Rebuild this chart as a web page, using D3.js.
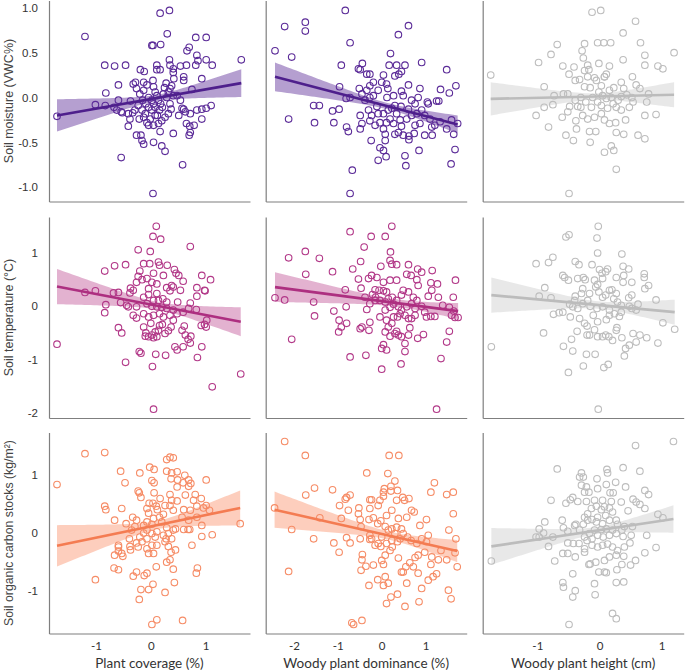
<!DOCTYPE html>
<html><head><meta charset="utf-8">
<script src="https://cdn.jsdelivr.net/npm/d3@7"></script>
<style>body{margin:0;background:#fff}svg{display:block}</style>
</head><body>
<script>
// ---------- DATA ----------
const predictors = ["Plant coverage (%)", "Woody plant dominance (%)", "Woody plant height (cm)"];
const responses = ["Soil moisture (VWC%)", "Soil temperature (°C)", "Soil organic carbon stocks (kg/m²)"];
const xTicks = [[-1,0,1],[-2,-1,0,1],[-1,0,1]];
const yTicks = [[1.0,0.5,0.0,-0.5,-1.0],[1,0,-1,-2],[1,0,-1]];

const moistureCoverage = [[-1.71,-0.21],[-1.20,0.68],[-0.84,0.36],[-0.66,0.35],[-0.46,0.36],[-0.82,0.05],[-1.01,-0.08],[-0.83,-0.09],[-0.67,-0.11],[-0.59,-0.03],[-0.59,0.14],[-0.54,-0.16],[-0.52,-0.17],[-0.41,-0.32],[-0.38,-0.24],[-0.37,-0.04],[-0.54,-0.67],[-0.26,-0.42],[-0.18,-0.42],[-0.16,-0.48],[-0.13,-0.52],[0.05,-0.50],[0.20,-0.54],[0.26,-0.60],[0.04,-1.07],[0.58,-0.75],[0.17,0.94],[0.34,0.97],[0.30,0.71],[0.02,0.58],[0.04,0.58],[0.18,0.59],[-0.19,0.31],[-0.12,0.29],[0.11,0.36],[0.11,0.31],[0.17,0.31],[0.34,0.42],[0.35,0.36],[0.41,0.32],[0.41,0.28],[0.54,0.35],[0.65,0.36],[0.66,0.52],[0.70,0.56],[0.82,0.67],[1.01,0.67],[0.84,0.47],[0.86,0.41],[0.82,0.36],[1.01,0.42],[1.12,0.36],[1.65,0.42],[0.93,0.21],[0.75,0.09],[0.60,0.23],[0.60,0.19],[0.42,0.21],[0.38,0.13],[0.28,0.16],[0.25,0.11],[0.04,0.19],[0.05,0.12],[-0.07,0.14],[-0.13,0.17],[-0.32,0.15],[-0.28,0.17],[-0.26,0.10],[-0.20,0.04],[-0.13,0.08],[-0.04,0.00],[0.02,-0.03],[0.08,0.06],[0.11,0.02],[0.14,-0.03],[0.18,-0.07],[0.23,0.04],[0.29,0.00],[0.32,0.06],[0.35,0.10],[0.41,0.02],[0.48,0.02],[0.35,-0.07],[0.37,-0.13],[0.32,-0.18],[0.26,-0.22],[0.20,-0.26],[0.14,-0.29],[0.08,-0.20],[0.02,-0.14],[-0.01,-0.24],[-0.07,-0.28],[-0.10,-0.18],[-0.16,-0.14],[-0.23,-0.09],[-0.29,-0.14],[-0.33,-0.17],[-0.21,-0.24],[-0.13,-0.22],[-0.04,-0.31],[0.05,-0.31],[0.17,-0.38],[0.41,-0.40],[0.57,-0.12],[0.60,-0.13],[0.65,-0.29],[0.71,-0.32],[0.72,-0.39],[0.70,-0.42],[0.79,-0.31],[0.72,-0.18],[0.84,-0.14],[0.93,-0.13],[1.01,-0.12],[1.10,-0.09],[0.93,-0.24],[0.63,-0.16],[0.51,-0.20],[0.54,-0.03],[0.21,-0.11],[0.16,-0.14],[-0.04,-0.11],[-0.09,-0.07],[-0.15,-0.03],[0.08,-0.11],[0.12,-0.20],[0.05,-0.07],[-0.62,-0.14],[-0.41,-0.18]];
const moistureDominance = [[-2.43,0.52],[-2.21,0.79],[-1.74,0.84],[-1.74,0.74],[-2.05,0.45],[-0.83,0.97],[-0.72,0.61],[0.61,0.80],[0.38,0.70],[0.20,0.49],[0.91,0.39],[1.48,0.31],[-0.92,0.36],[-0.44,0.38],[-0.53,0.32],[-0.49,0.31],[-0.34,0.26],[-0.27,0.26],[0.04,0.25],[0.17,0.36],[0.34,0.36],[0.53,0.36],[0.30,0.24],[0.39,0.26],[0.45,0.29],[-0.96,0.12],[-0.81,-0.01],[-0.72,0.00],[-0.51,0.10],[-0.27,0.13],[-0.19,0.17],[0.00,0.17],[0.11,0.15],[0.14,0.10],[0.61,0.14],[0.87,0.10],[1.34,0.09],[1.69,0.13],[1.54,0.05],[1.25,-0.04],[1.30,-0.04],[1.04,-0.05],[1.06,-0.07],[0.83,0.00],[0.68,-0.03],[0.45,0.07],[0.49,0.02],[0.27,0.02],[0.12,0.00],[-0.08,0.08],[-0.34,0.08],[-0.45,0.04],[-0.27,0.00],[-0.19,0.02],[-0.38,-0.03],[-1.55,-0.09],[-1.42,-0.09],[-1.12,-0.15],[-0.97,-0.13],[-2.12,-0.24],[-1.53,-0.28],[-1.09,-0.28],[-0.80,-0.33],[-0.76,-0.38],[-0.49,-0.20],[-0.45,-0.29],[-0.49,-0.35],[-0.24,-0.48],[-0.04,-0.56],[0.04,-0.59],[0.10,-0.66],[-0.08,-0.70],[-0.67,-0.81],[-0.72,-1.07],[0.53,-0.65],[0.55,-0.76],[0.85,-0.59],[1.58,-0.74],[1.67,-0.58],[1.64,-0.41],[1.73,-0.29],[1.48,-0.35],[1.59,-0.25],[1.33,-0.27],[1.15,-0.42],[0.98,-0.42],[0.74,-0.40],[0.62,-0.43],[0.62,-0.47],[0.49,-0.42],[0.38,-0.39],[0.30,-0.41],[0.08,-0.41],[0.04,-0.35],[0.08,-0.48],[-0.15,-0.31],[-0.04,-0.28],[-0.27,-0.26],[-0.23,-0.20],[-0.08,-0.18],[0.04,-0.18],[0.15,-0.14],[0.23,-0.12],[0.34,-0.18],[0.42,-0.25],[0.45,-0.32],[0.57,-0.24],[0.68,-0.20],[0.80,-0.18],[0.91,-0.14],[0.98,-0.20],[1.10,-0.24],[1.21,-0.31],[1.14,-0.33],[0.87,-0.29],[0.76,-0.31],[0.27,-0.29],[0.19,-0.24],[0.11,-0.28],[0.30,-0.09],[0.44,-0.10],[0.61,-0.13],[0.76,-0.07],[-0.11,-0.10],[-0.30,-0.14]];
const moistureHeight = [[-1.75,0.25],[-0.12,0.95],[0.02,0.97],[0.58,0.85],[0.38,0.72],[-0.68,0.59],[-0.24,0.60],[-0.03,0.61],[0.07,0.61],[0.18,0.61],[0.66,0.61],[-0.78,0.48],[-0.28,0.52],[-0.26,0.44],[0.38,0.42],[0.73,0.47],[1.20,0.50],[-0.98,0.39],[-0.59,0.35],[-0.19,0.36],[-0.01,0.38],[0.16,0.35],[0.73,0.36],[0.94,0.35],[1.02,0.32],[-0.49,0.26],[-0.41,0.34],[-0.24,0.30],[-0.17,0.31],[-0.19,0.23],[-0.05,0.19],[0.08,0.23],[0.11,0.26],[0.35,0.17],[0.53,0.23],[0.59,0.14],[0.65,0.10],[0.79,0.04],[0.76,-0.05],[0.73,-0.20],[0.91,-0.19],[-0.89,0.12],[-0.73,0.02],[-0.58,0.04],[-0.51,0.04],[-0.39,0.19],[-0.32,0.20],[-0.24,0.12],[-0.15,0.11],[-0.01,0.06],[0.05,0.02],[0.16,0.08],[0.23,0.11],[0.39,0.10],[0.44,0.03],[0.52,0.00],[-0.89,-0.11],[-0.75,-0.08],[-1.02,-0.20],[-0.82,-0.33],[-0.60,-0.22],[-0.51,-0.16],[-0.48,-0.10],[-0.39,-0.03],[-0.35,-0.10],[-0.30,-0.11],[-0.27,-0.20],[-0.38,-0.26],[-0.37,-0.35],[-0.54,-0.42],[-0.42,-0.48],[-0.16,-0.38],[-0.06,-0.38],[-0.15,-0.50],[0.08,-0.61],[0.23,-0.59],[0.19,-0.54],[0.27,-0.80],[-0.49,-1.07],[-0.19,-0.24],[-0.08,-0.22],[0.03,-0.18],[0.08,-0.25],[0.16,-0.29],[0.26,-0.28],[0.39,-0.41],[0.27,-0.39],[0.62,-0.42],[0.73,-0.46],[0.42,-0.25],[0.35,-0.14],[0.48,-0.11],[0.54,-0.05],[0.27,-0.11],[0.22,-0.07],[0.13,-0.12],[0.03,-0.09],[-0.03,-0.05],[-0.13,-0.11],[-0.22,-0.05],[-0.30,0.00],[-0.11,0.00],[0.11,-0.01],[0.19,0.00],[0.30,-0.03],[0.35,0.01],[0.03,0.13],[-0.08,0.22],[0.08,0.23]];
const tempCoverage = [[-1.71,-0.71],[-1.20,0.26],[-1.01,0.29],[-0.84,0.66],[-0.66,0.76],[-0.46,0.78],[-0.82,0.03],[-0.84,-0.12],[-0.68,0.25],[-0.59,0.26],[-0.59,-0.40],[-0.53,-0.50],[-0.46,-1.05],[-0.55,0.07],[-0.44,0.02],[-0.38,0.25],[-0.37,0.34],[-0.32,0.30],[-0.41,-0.01],[-0.26,-0.01],[-0.32,-0.17],[-0.26,-0.22],[-0.23,1.06],[-0.01,1.03],[0.10,1.50],[0.04,1.31],[0.18,1.26],[0.72,1.12],[-0.13,0.80],[-0.02,0.80],[0.14,0.83],[0.16,0.77],[0.05,0.62],[-0.20,0.66],[-0.23,0.56],[-0.16,0.50],[-0.26,0.45],[-0.07,0.52],[0.02,0.45],[0.11,0.42],[0.23,0.58],[0.30,0.77],[0.43,0.69],[0.46,0.62],[0.51,0.58],[0.59,0.47],[0.38,0.39],[0.41,0.36],[0.29,0.35],[0.35,0.29],[0.54,0.30],[0.93,0.58],[1.09,0.50],[0.84,0.35],[0.98,0.30],[0.99,0.29],[0.84,0.19],[0.72,0.06],[0.83,-0.06],[0.69,-0.04],[0.59,-0.11],[0.49,0.08],[0.29,0.08],[0.22,0.14],[0.11,0.24],[-0.04,0.22],[-0.13,0.17],[-0.04,0.33],[0.05,0.11],[0.14,0.11],[-0.07,0.05],[0.02,0.00],[0.11,-0.01],[0.20,-0.02],[0.29,-0.04],[0.41,-0.07],[-0.13,-0.14],[-0.04,-0.20],[0.05,-0.17],[0.16,-0.14],[0.23,-0.20],[0.35,-0.17],[0.41,-0.26],[0.37,-0.39],[0.32,-0.46],[0.26,-0.51],[0.21,-0.34],[0.16,-0.36],[0.14,-0.45],[0.08,-0.48],[0.02,-0.54],[-0.04,-0.57],[-0.10,-0.56],[-0.09,-0.50],[-0.13,-0.39],[0.00,-0.32],[0.11,-0.57],[0.05,-0.59],[-0.21,-0.85],[-0.18,-0.88],[0.09,-0.90],[0.27,-0.92],[0.03,-1.13],[0.05,-1.93],[0.44,-0.76],[0.48,-0.82],[0.59,-0.76],[0.61,-0.37],[0.63,-0.54],[0.68,-0.62],[0.72,-0.69],[0.73,-0.56],[0.85,-0.96],[0.93,-0.76],[0.92,-0.36],[0.98,-0.34],[1.01,-0.39],[1.02,-0.26],[1.12,-1.51],[1.64,-1.27],[0.57,-0.45],[0.48,-0.14]];
const tempDominance = [[-2.43,0.16],[-2.21,0.12],[-2.12,0.91],[-1.74,1.03],[-1.42,0.90],[-1.73,0.60],[-2.05,-0.62],[-1.55,0.08],[-1.53,-0.18],[-1.12,0.65],[-1.09,-0.09],[-0.97,-0.26],[-0.98,-0.48],[-0.92,-0.39],[-0.80,-0.32],[-0.83,0.31],[-0.81,-0.01],[-0.72,1.40],[-0.72,-0.95],[-0.66,0.70],[-0.53,0.51],[-0.49,-0.42],[-0.45,-0.39],[-0.47,0.34],[-0.40,1.11],[-0.48,0.84],[-0.36,-0.92],[-0.34,-0.06],[-0.29,-0.45],[-0.27,-0.30],[-0.24,1.31],[0.08,1.31],[0.23,1.50],[0.20,1.02],[0.19,0.86],[0.23,0.79],[-0.02,0.75],[0.34,0.78],[0.61,0.78],[0.82,0.70],[0.91,0.64],[1.15,0.67],[1.68,0.49],[1.63,0.17],[1.29,0.17],[1.27,0.42],[1.12,0.44],[1.14,0.30],[1.06,0.19],[1.39,0.02],[1.54,-0.02],[1.64,-0.09],[1.67,-0.21],[1.74,-0.21],[1.59,-0.17],[1.54,-0.47],[1.48,-0.67],[1.35,-0.98],[1.21,-0.19],[1.12,-0.19],[1.02,-0.20],[0.98,-0.11],[0.91,0.00],[0.95,-0.53],[0.82,-0.60],[0.61,-0.54],[0.64,-0.40],[0.61,-0.23],[0.68,-0.23],[0.53,-0.70],[0.53,-0.85],[0.44,-1.08],[1.25,-1.93],[0.00,-1.18],[0.04,-0.72],[0.00,-0.79],[0.11,-0.82],[0.19,-0.56],[0.30,-0.51],[0.34,-0.47],[0.38,-0.54],[0.45,-0.57],[0.08,-0.48],[0.15,-0.39],[0.23,-0.32],[0.11,-0.26],[-0.04,-0.20],[0.08,-0.07],[0.19,-0.02],[0.27,0.04],[0.38,-0.01],[0.45,-0.07],[0.57,-0.01],[0.76,-0.04],[0.68,0.05],[0.80,0.11],[0.72,0.17],[0.61,0.27],[0.49,0.30],[0.45,0.21],[0.34,0.11],[0.24,0.17],[0.15,0.14],[0.08,0.08],[-0.04,0.11],[-0.14,0.17],[-0.21,0.22],[-0.15,0.31],[-0.06,0.30],[0.04,0.29],[0.11,0.27],[0.19,0.49],[0.34,0.49],[0.57,0.60],[0.67,0.58],[0.80,0.50],[0.83,0.39],[-0.23,0.58],[-0.30,0.52],[-0.11,0.54],[0.04,0.45],[-0.15,0.11],[-0.27,0.05],[-0.38,0.17],[0.36,-0.20],[0.42,-0.14],[0.27,-0.20],[0.76,-0.17],[0.53,-0.17]];
const tempHeight = [[-1.74,-0.76],[-0.02,1.50],[-0.54,1.30],[-0.49,1.34],[-0.04,1.28],[-0.03,1.00],[0.36,0.98],[-1.02,0.80],[-0.82,0.82],[-0.75,0.92],[-0.39,0.84],[-0.33,0.78],[-0.12,0.78],[0.00,0.69],[0.04,0.62],[0.10,0.65],[0.13,0.70],[0.38,0.75],[0.47,0.70],[0.39,0.58],[0.52,0.45],[0.72,0.61],[0.72,0.54],[0.79,0.39],[0.73,0.33],[-0.59,0.58],[-0.56,0.54],[-0.50,0.49],[-0.35,0.52],[-0.26,0.54],[-0.23,0.50],[-0.08,0.49],[-0.03,0.41],[0.05,0.52],[0.27,0.54],[0.38,0.45],[-0.88,0.35],[-0.97,0.19],[-0.78,0.16],[-0.27,0.33],[-0.29,0.24],[-0.39,0.19],[-0.40,0.11],[-0.43,-0.01],[-0.48,0.04],[-0.35,-0.04],[-0.27,0.05],[-0.19,0.11],[-0.16,0.24],[-0.06,0.36],[-0.01,0.27],[0.05,0.17],[0.10,0.21],[0.16,0.30],[0.20,0.31],[0.27,0.24],[0.23,0.14],[0.29,0.08],[0.35,0.02],[0.47,0.16],[0.52,0.21],[0.62,0.04],[0.59,-0.07],[0.91,0.12],[1.02,-0.31],[1.21,-0.43],[0.94,-0.69],[0.76,-0.59],[0.65,-0.54],[0.59,-0.67],[0.54,-0.51],[0.48,-0.73],[0.42,-0.79],[0.40,-0.93],[0.36,-0.59],[0.27,-0.45],[0.21,-0.64],[0.15,-0.57],[0.10,-0.54],[0.05,-0.57],[-0.03,-0.57],[-0.08,-0.44],[-0.16,-0.54],[-0.20,-0.54],[-0.36,-0.47],[-0.45,-0.62],[-0.58,-0.75],[-0.43,-0.84],[-0.50,-1.24],[-0.21,-0.90],[-0.07,-0.90],[-0.26,-1.12],[0.07,-1.15],[0.14,-1.09],[-0.02,-1.93],[-0.90,-0.50],[-0.74,-0.15],[-0.65,-0.12],[-0.59,-0.11],[-0.47,-0.20],[-0.32,-0.23],[-0.24,-0.32],[-0.20,-0.37],[-0.10,-0.17],[-0.03,-0.29],[0.11,-0.25],[0.16,-0.17],[0.24,-0.14],[0.32,-0.19],[0.28,-0.40],[0.35,-0.11],[0.16,-0.07],[0.05,-0.01],[-0.04,-0.04],[-0.15,0.00],[0.48,0.00],[0.52,-0.04]];
const socCoverage = [[-1.71,0.83],[-1.20,1.36],[-0.84,1.38],[-0.84,0.46],[-0.82,0.40],[-0.66,0.22],[-0.55,1.06],[-0.47,0.86],[-0.53,0.42],[-0.66,-0.38],[-0.59,-0.21],[-0.59,-0.24],[-0.59,-0.31],[-0.53,-0.35],[-0.51,-0.40],[-0.67,-0.60],[-0.59,-0.63],[-1.01,-0.80],[-0.45,0.16],[-0.35,0.05],[-0.39,-0.10],[-0.38,-0.23],[-0.37,-0.29],[-0.33,0.27],[-0.26,0.22],[-0.29,0.11],[-0.23,-0.24],[-0.26,-0.17],[-0.32,-0.74],[-0.26,-0.67],[-0.18,-0.97],[-0.21,-1.14],[-0.04,-0.97],[-0.07,-0.69],[-0.12,-0.73],[0.04,-0.88],[0.10,-0.58],[0.02,-1.57],[0.11,-1.49],[0.26,-1.02],[0.58,-1.50],[0.41,-0.62],[0.43,-0.85],[-0.20,1.03],[-0.23,0.72],[-0.21,0.69],[-0.18,0.61],[-0.02,1.13],[0.06,1.09],[0.02,0.90],[0.06,0.86],[0.06,0.69],[-0.03,0.51],[0.04,0.51],[-0.07,0.42],[-0.04,0.34],[0.10,0.46],[0.12,0.40],[0.17,0.59],[0.29,1.26],[0.35,1.30],[0.41,1.29],[0.29,1.06],[0.38,1.03],[0.48,1.05],[0.37,0.93],[0.49,0.91],[0.59,0.86],[0.62,0.99],[0.69,0.91],[0.73,0.85],[0.69,0.80],[1.01,0.91],[0.63,0.65],[0.48,0.79],[0.35,0.66],[0.26,0.47],[0.35,0.47],[0.38,0.56],[0.48,0.55],[0.41,0.39],[0.81,0.66],[0.78,0.56],[0.92,0.59],[0.84,0.46],[1.01,0.47],[1.07,0.39],[0.96,0.43],[0.72,0.39],[0.60,0.40],[0.57,0.27],[0.69,0.22],[0.84,0.27],[0.93,0.13],[1.63,0.16],[0.60,0.06],[0.68,0.06],[0.71,0.06],[0.41,0.05],[0.45,0.07],[0.29,0.09],[0.20,0.19],[0.16,0.27],[0.23,0.32],[0.05,0.25],[-0.07,0.19],[-0.13,0.13],[0.02,0.15],[-0.07,0.05],[-0.13,0.00],[0.02,-0.01],[0.11,0.02],[0.08,-0.07],[0.23,-0.04],[0.28,-0.10],[0.38,-0.10],[0.32,-0.23],[0.37,-0.33],[0.45,-0.29],[0.26,-0.15],[0.11,-0.21],[0.02,-0.21],[-0.07,-0.27],[-0.04,-0.35],[0.05,-0.35],[-0.07,-0.10],[-0.20,-0.07],[-0.16,-0.15],[0.75,-0.21],[0.93,-0.06],[1.12,-0.03],[0.85,-0.60],[0.83,-0.69],[0.35,-0.46],[0.29,-0.50],[0.32,-0.01]];
const socDominance = [[-2.44,0.43],[-2.21,1.57],[-1.74,1.33],[-1.73,0.65],[-1.53,0.77],[-2.05,0.06],[-2.12,-0.66],[-1.55,-0.10],[-1.41,0.26],[-1.12,0.74],[-1.09,-0.17],[-0.97,-0.33],[-0.96,0.47],[-0.92,0.25],[-0.83,0.58],[-0.80,0.61],[-0.72,0.65],[-0.76,0.39],[-0.80,-0.08],[-0.72,-0.17],[-0.68,-1.54],[-0.64,-1.57],[-0.45,-1.50],[-0.52,0.43],[-0.53,0.33],[-0.49,0.23],[-0.47,0.11],[-0.49,-0.10],[-0.44,-0.37],[-0.45,-0.46],[-0.47,-0.64],[-0.36,-0.57],[-0.34,1.03],[-0.27,0.57],[-0.23,0.57],[-0.27,0.42],[-0.19,0.26],[-0.29,0.23],[-0.27,-0.11],[-0.23,-0.10],[-0.27,-0.04],[-0.19,-0.55],[-0.29,-0.90],[-0.09,0.16],[-0.02,0.21],[-0.04,0.56],[0.04,0.63],[0.06,0.76],[0.04,0.70],[0.14,1.02],[0.17,1.33],[0.39,1.33],[0.21,0.80],[0.21,0.72],[0.30,0.89],[0.36,0.73],[0.48,0.61],[0.52,0.56],[0.62,0.59],[0.34,0.56],[0.23,0.39],[0.68,0.39],[0.74,0.36],[0.57,0.27],[0.87,0.13],[1.02,0.23],[1.20,0.86],[1.12,0.70],[1.48,0.66],[1.63,0.70],[1.63,0.33],[1.53,0.05],[1.69,-0.10],[1.67,-0.34],[1.72,-0.58],[1.52,-0.98],[1.58,-1.13],[1.48,-0.46],[1.35,-0.30],[1.29,-0.46],[1.14,-0.41],[1.12,-0.54],[1.25,-0.70],[1.17,-0.75],[1.06,-0.81],[0.91,-0.95],[0.85,-1.18],[0.83,-0.69],[0.72,-0.58],[0.64,-0.51],[0.76,-0.42],[0.83,-0.38],[0.98,-0.33],[1.02,-0.15],[1.06,-0.04],[0.91,-0.10],[0.80,-0.18],[0.67,-0.13],[0.59,-0.07],[0.49,-0.01],[0.42,-0.10],[0.36,-0.15],[0.24,-0.24],[0.19,-0.30],[0.08,-0.38],[0.00,-0.47],[0.04,-0.54],[0.38,-0.43],[0.45,-0.67],[0.49,-0.67],[0.57,-0.86],[0.55,-0.58],[-0.09,-0.80],[0.08,-0.75],[0.15,-0.86],[0.04,-0.90],[0.21,-1.10],[0.11,-1.21],[0.36,-1.05],[0.53,-1.26],[-0.15,-0.21],[-0.08,-0.18],[-0.02,-0.23],[0.11,-0.18],[0.23,-0.13],[0.30,-0.01],[0.23,0.07],[0.15,0.05],[0.08,0.11],[0.34,0.10],[0.45,0.07],[0.38,0.25],[0.11,0.30],[-0.08,0.47],[0.00,-0.07]];
const socHeight = [[-1.74,-0.48],[1.19,1.57],[0.58,1.50],[-0.68,1.10],[0.38,1.12],[0.65,1.06],[-0.29,1.03],[-0.26,0.96],[-0.32,0.96],[0.12,1.09],[0.13,1.03],[-0.04,0.93],[0.26,0.87],[-0.29,0.82],[-0.21,0.79],[-0.03,0.76],[0.11,0.83],[0.42,0.79],[-0.24,0.70],[-0.17,0.70],[0.17,0.69],[0.22,0.69],[0.73,0.73],[0.79,0.66],[-0.78,0.56],[-0.54,0.51],[-0.47,0.57],[-0.43,0.61],[-0.35,0.54],[-0.21,0.54],[-0.08,0.56],[0.05,0.56],[0.19,0.54],[0.35,0.53],[0.54,0.58],[0.59,0.53],[0.65,0.49],[0.73,0.42],[0.46,0.38],[0.94,0.32],[1.02,0.26],[-0.88,0.19],[-0.97,0.07],[-0.90,0.00],[-1.02,-0.07],[-0.82,-0.23],[-0.75,-0.07],[-0.60,0.22],[-0.58,0.09],[-0.51,0.03],[-0.40,0.13],[-0.38,0.15],[-0.32,0.05],[-0.26,0.15],[-0.24,0.27],[-0.19,0.33],[-0.13,0.42],[-0.05,0.46],[0.03,0.40],[0.08,0.45],[0.16,0.43],[0.21,0.36],[0.10,0.30],[-0.03,0.27],[-0.12,0.23],[-0.19,0.22],[-0.05,0.19],[0.05,0.16],[0.16,0.22],[0.27,0.22],[0.29,0.15],[0.40,0.11],[0.53,0.11],[0.36,0.05],[0.21,0.05],[0.11,0.07],[0.03,0.06],[-0.08,0.05],[-0.16,-0.01],[-0.24,-0.07],[-0.20,-0.13],[-0.12,-0.10],[-0.03,-0.04],[0.06,-0.07],[0.16,-0.04],[0.27,-0.01],[0.38,-0.06],[0.51,-0.04],[0.76,-0.04],[0.49,-0.17],[0.40,-0.24],[0.29,-0.30],[0.21,-0.24],[0.13,-0.19],[0.05,-0.21],[-0.03,-0.24],[-0.12,-0.21],[-0.24,-0.27],[-0.33,-0.18],[-0.42,-0.18],[-0.51,-0.17],[-0.59,-0.35],[-0.51,-0.35],[-0.39,-0.41],[-0.24,-0.33],[-0.15,-0.53],[-0.17,-0.54],[-0.06,-0.50],[0.08,-0.47],[0.16,-0.41],[0.27,-0.38],[0.39,-0.40],[0.36,-0.54],[0.50,-0.55],[0.58,-0.47],[0.73,-0.34],[0.91,-0.25],[0.28,-0.63],[-0.01,-0.67],[0.08,-0.67],[0.11,-0.68],[0.27,-0.85],[0.39,-0.84],[-0.43,-0.70],[-0.08,-0.87],[-0.59,-0.85],[-0.58,-0.93],[-0.39,-0.99],[-0.43,-1.10],[-0.07,-1.06],[0.21,-1.38],[0.27,-1.47],[-0.49,-1.57],[-0.72,-0.48],[-0.97,-0.07]];

const panelData = [
  [moistureCoverage, moistureDominance, moistureHeight],
  [tempCoverage, tempDominance, tempHeight],
  [socCoverage, socDominance, socHeight]
];
// fitted line ends (yL,yR) and CI half-widths at left end, right end, and narrowest point
const fitYL = [[-0.20,0.23,-0.015],[0.37,0.36,0.21],[-0.22,0.40,-0.23]];
const fitYR = [[0.16,-0.30,0.03],[-0.29,-0.09,-0.11],[0.43,-0.31,0.24]];
const ciL = [[0.18,0.16,0.185],[0.33,0.28,0.33],[0.355,0.31,0.315]];
const ciR = [[0.155,0.10,0.14],[0.27,0.15,0.235],[0.30,0.19,0.235]];
const ciMin = [[0.035,0.035,0.035],[0.07,0.07,0.07],[0.07,0.07,0.06]];

// ---------- LAYOUT / STYLE ----------
const W = 685, H = 670;
const colX = [49, 265.7, 482.7], colW = 201;
const rowY = [0.5, 217, 432.5], rowH = 201;
const xDomains = [[-1.856,1.809],[-2.642,1.936],[-1.879,1.355]];
const yDomains = [[-1.159,1.081],[-2.095,1.675],[-1.724,1.724]];
const rowColors = [
  {line:"#4e1f8c", band:"#a88ec8", pt:"#5b2b98"},
  {line:"#ad2f80", band:"#dea5c8", pt:"#b23888"},
  {line:"#f47c52", band:"#fdc5b2", pt:"#f68c66"}
];
const grey = {line:"#bcbcbc", band:"#e4e4e4", pt:"#bdbdbd"};
const fmtMinus = s => s.replace("\u2212","-");

const svg = d3.select("body").append("svg").attr("width", W).attr("height", H);

for (let r = 0; r < 3; r++) {
  for (let c = 0; c < 3; c++) {
    const col = c === 2 ? grey : rowColors[r];
    const x = d3.scaleLinear().domain(xDomains[c]).range([colX[c], colX[c] + colW]);
    const y = d3.scaleLinear().domain(yDomains[r]).range([rowY[r] + rowH, rowY[r]]);
    const g = svg.append("g");
    const pts = panelData[r][c];
    const [a, b] = d3.extent(pts, d => d[0]);
    const yL = fitYL[r][c], yR = fitYR[r][c];
    const hL = ciL[r][c], hR = ciR[r][c], h0 = ciMin[r][c];
    const rr = Math.sqrt((hL*hL - h0*h0) / (hR*hR - h0*h0));
    const xm = (a + rr * b) / (1 + rr);
    const k = Math.sqrt(hR*hR - h0*h0) / (b - xm);
    const fit = t => yL + (yR - yL) * (t - a) / (b - a);
    const hw = t => Math.sqrt(h0*h0 + k*k*(t - xm)*(t - xm));
    const xs = d3.range(0, 61).map(i => a + (b - a) * i / 60);

    g.append("path")
      .datum(xs)
      .attr("d", d3.area().x(t => x(t)).y0(t => y(fit(t) - hw(t))).y1(t => y(fit(t) + hw(t))))
      .attr("fill", col.band).attr("fill-opacity", 0.85);

    g.selectAll("circle").data(pts).join("circle")
      .attr("cx", d => x(d[0])).attr("cy", d => y(d[1])).attr("r", 3.3)
      .attr("fill", "none").attr("stroke", col.pt).attr("stroke-width", 1.1);

    g.append("path")
      .datum([a, b])
      .attr("d", d3.line().x(t => x(t)).y(t => y(fit(t))))
      .attr("stroke", col.line).attr("stroke-width", 2.6).attr("fill", "none");

    // axes (L-shaped frame)
    const yAx = g.append("g").attr("transform", `translate(${colX[c]},0)`)
      .call(d3.axisLeft(y).tickValues(yTicks[r]).tickSize(0).tickPadding(11)
        .tickFormat(d => fmtMinus(r === 0 ? d3.format(".1f")(d) : d3.format("d")(d))));
    yAx.select(".domain").attr("stroke", "#7f7f7f").attr("stroke-width", 1.2);
    yAx.selectAll("text").attr("font-family", "Liberation Sans, Arial, sans-serif")
      .attr("font-size", 11.5).attr("fill", "#333");
    if (c > 0) yAx.selectAll(".tick").remove();

    const xAx = g.append("g").attr("transform", `translate(0,${rowY[r] + rowH})`)
      .call(d3.axisBottom(x).tickValues(xTicks[c]).tickSize(0).tickPadding(8)
        .tickFormat(d => fmtMinus(d3.format("d")(d))));
    xAx.select(".domain").attr("stroke", "#7f7f7f").attr("stroke-width", 1.2);
    xAx.selectAll("text").attr("font-family", "Lato, sans-serif")
      .attr("font-size", 11.5).attr("fill", "#333");
    if (r < 2) xAx.selectAll(".tick").remove();
  }
  svg.append("text")
    .attr("transform", `translate(13,${rowY[r] + rowH / 2}) rotate(-90)`)
    .attr("text-anchor", "middle")
    .attr("font-family", "Liberation Sans, Arial, sans-serif")
    .attr("font-size", r === 2 ? 12.3 : 12.5).attr("fill", "#444")
    .text(responses[r]);
}
predictors.forEach((p, c) => {
  svg.append("text")
    .attr("x", colX[c] + colW / 2).attr("y", 668)
    .attr("text-anchor", "middle")
    .attr("font-family", "Lato, sans-serif").attr("font-size", 13.5).attr("fill", "#333")
    .text(p);
});
</script>
</body></html>
